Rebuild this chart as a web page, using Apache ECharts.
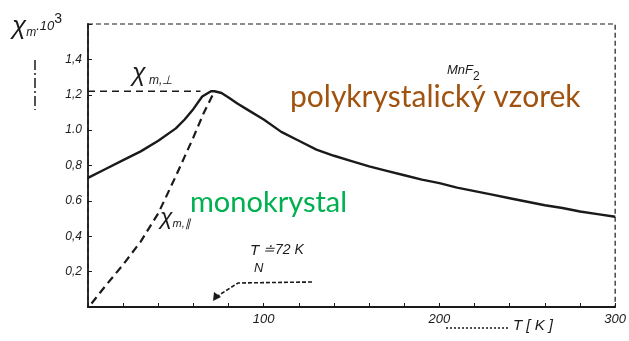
<!DOCTYPE html>
<html><head><meta charset="utf-8">
<script src="https://cdn.jsdelivr.net/npm/echarts@6/dist/echarts.min.js"></script>
<style>html,body{margin:0;padding:0;background:#fff}#c{width:629px;height:341px}</style>
</head><body><div id="c"></div>
<script>
// Polycrystalline sample (solid line)
const polyT   = [0, 10, 20, 30, 40, 50, 55, 60, 65, 70, 72, 76, 80, 85, 90, 100, 110, 120, 130, 140, 150, 160, 170, 180, 190, 200, 210, 220, 230, 240, 250, 260, 270, 280, 290, 300];
const polyChi = [0.73, 0.78, 0.83, 0.88, 0.94, 1.01, 1.06, 1.12, 1.19, 1.22, 1.22, 1.21, 1.185, 1.15, 1.12, 1.06, 0.99, 0.94, 0.89, 0.855, 0.825, 0.795, 0.77, 0.745, 0.72, 0.70, 0.675, 0.655, 0.635, 0.615, 0.595, 0.575, 0.56, 0.54, 0.525, 0.51];
// Single crystal, parallel susceptibility (dashed line)
const monoT   = [2, 10, 20, 30, 40, 50, 55, 60, 66, 72];
const monoChi = [0.02, 0.12, 0.24, 0.37, 0.53, 0.74, 0.85, 0.96, 1.10, 1.22];
// Perpendicular susceptibility level
const chiPerp = 1.22;
const perpEndT = 64;
// tick labels
const yTickLabels = {"0.2":"0,2","0.4":"0,4","0.6":"0.6","0.8":"0,8","1":"1.0","1.2":"1,2","1.4":"1,4"};
const xTickLabels = {"100":"100","200":"200","300":"300"};

const chart = echarts.init(document.getElementById('c'), null, {renderer:'canvas'});
const ink = '#1a1a1a';
const scanFont = 'Liberation Sans';

chart.setOption({
  animation:false,
  grid:{left:88, right:10, top:24, bottom:34, show:true, borderColor:ink, borderWidth:1.2, borderType:[5,3]},
  xAxis:{type:'value', min:0, max:300, interval:20,
    axisLine:{lineStyle:{color:ink, width:1.8}},
    axisTick:{inside:true, length:4, lineStyle:{color:ink, width:1}},
    axisLabel:{formatter:v=>xTickLabels[String(v)]||'', color:ink, fontSize:13, fontStyle:'italic', fontFamily:scanFont, margin:6, showMaxLabel:true},
    splitLine:{show:false}},
  yAxis:{type:'value', min:0, max:1.6, interval:0.2,
    axisLine:{lineStyle:{color:ink, width:1.8}},
    axisTick:{inside:true, length:4, lineStyle:{color:ink, width:1}},
    axisLabel:{formatter:v=>yTickLabels[String(Math.round(v*10)/10)]||'', color:ink, fontSize:12, fontStyle:'italic', fontFamily:scanFont, margin:6},
    splitLine:{show:false}},
  series:[
    {type:'line', data:polyT.map((t,i)=>[t,polyChi[i]]), symbol:'none', smooth:false,
     lineStyle:{color:ink, width:2.4}},
    {type:'line', data:monoT.map((t,i)=>[t,monoChi[i]]), symbol:'none', smooth:false,
     lineStyle:{color:ink, width:2.2, type:[8,5]}},
    {type:'line', data:[[0,chiPerp],[perpEndT,chiPerp]], symbol:'none',
     lineStyle:{color:ink, width:1.6, type:[7,5]}}
  ]
});

// annotations
chart.setOption({graphic:[
  {type:'text', left:12, top:12, style:{text:'{a|χ}{s|m}{b|.10}{p|3}', rich:{
    a:{fontSize:26, fontStyle:'italic', fontFamily:scanFont, fill:ink, verticalAlign:'bottom'},
    s:{fontSize:12, fontStyle:'italic', fontFamily:scanFont, fill:ink, padding:[14,0,0,0]},
    b:{fontSize:13, fontStyle:'italic', fontFamily:scanFont, fill:ink},
    p:{fontSize:14, fontFamily:scanFont, fill:ink, padding:[0,0,14,0]}}}},
  {type:'line', shape:{x1:35, y1:60, x2:35, y2:110}, style:{stroke:ink, lineWidth:1.5, lineDash:[10,3,2,3]}},
  {type:'text', left:132, top:62, style:{text:'{a|χ}{s| m,⊥}', rich:{
    a:{fontSize:25, fontStyle:'italic', fontFamily:scanFont, fill:ink},
    s:{fontSize:12, fontStyle:'italic', fontFamily:scanFont, fill:ink, padding:[12,0,0,0]}}}},
  {type:'text', left:160, top:206, style:{text:'{a|χ}{s|m,∥}', rich:{
    a:{fontSize:23, fontStyle:'italic', fontFamily:scanFont, fill:ink},
    s:{fontSize:11, fontStyle:'italic', fontFamily:scanFont, fill:ink, padding:[12,0,0,0]}}}},
  {type:'text', left:447, top:64, style:{text:'{a|MnF}{s|2}', rich:{
    a:{fontSize:13, fontStyle:'italic', fontFamily:scanFont, fill:ink},
    s:{fontSize:12, fontFamily:scanFont, fill:ink, padding:[12,0,0,0]}}}},
  {type:'text', left:250, top:243, style:{text:'{a|T}{b| ≐72 K}', rich:{
    a:{fontSize:15, fontStyle:'italic', fontFamily:scanFont, fill:ink},
    b:{fontSize:14, fontStyle:'italic', fontFamily:scanFont, fill:ink}}}},
  {type:'text', left:254, top:262, style:{text:'N', fontSize:13, fontStyle:'italic', fontFamily:scanFont, fill:ink}},
  {type:'polyline', shape:{points:[[312,282],[238,283],[216,297]]}, style:{stroke:ink, lineWidth:1.6, fill:null, lineDash:[4,2]}},
  {type:'polygon', shape:{points:[[213,301],[214,292],[221,297]]}, style:{fill:ink}},
  {type:'line', shape:{x1:446, y1:328, x2:508, y2:328}, style:{stroke:ink, lineWidth:1.6, lineDash:[2,2]}},
  {type:'text', left:513, top:318, style:{text:'T [ K ]', fontSize:15, fontStyle:'italic', fontFamily:scanFont, fill:ink}},
  {type:'text', left:290, top:82, style:{text:'polykrystalický vzorek', fontSize:30, fontFamily:'Lato', fill:'#a0520f'}},
  {type:'text', left:190, top:188, style:{text:'monokrystal', fontSize:29, fontFamily:'Lato', fill:'#00b050'}}
]});
</script></body></html>
